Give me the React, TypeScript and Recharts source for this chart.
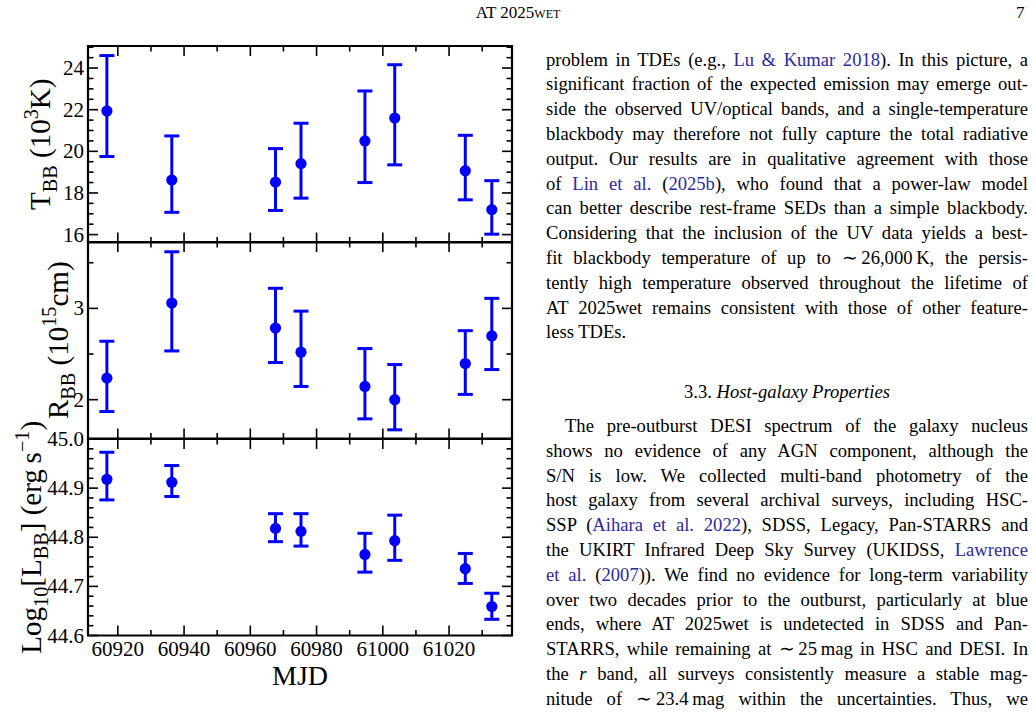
import React from 'react';
import { ScatterChart, Scatter, XAxis, YAxis, ErrorBar, ReferenceArea } from 'recharts';

// epochs of the blackbody fits
const mjd = [60916.7, 60936.3, 60967.6, 60975.3, 60994.6, 61003.6, 61024.9, 61032.9];

// T_BB in 10^3 K
const temp = [21.94, 18.62, 18.52, 19.41, 20.5, 21.6, 19.07, 17.2];
const tempErrLo = [2.19, 1.55, 1.36, 1.66, 2.0, 2.25, 1.4, 1.18];
const tempErrHi = [2.66, 2.12, 1.61, 1.94, 2.4, 2.56, 1.7, 1.39];

// R_BB in 10^15 cm
const radius = [2.236, 3.059, 2.785, 2.52, 2.145, 2.0, 2.396, 2.698];
const radiusErrLo = [0.366, 0.525, 0.378, 0.375, 0.355, 0.33, 0.338, 0.368];
const radiusErrHi = [0.404, 0.561, 0.435, 0.45, 0.415, 0.385, 0.36, 0.412];

// log10 L_BB in erg/s
const lum = [44.918, 44.912, 44.818, 44.812, 44.765, 44.793, 44.736, 44.659];
const lumErrLo = [0.042, 0.029, 0.027, 0.03, 0.036, 0.04, 0.03, 0.026];
const lumErrHi = [0.055, 0.034, 0.03, 0.036, 0.043, 0.052, 0.031, 0.027];

const mjdMajor = [60920, 60940, 60960, 60980, 61000, 61020];
const tempMajor = [16, 18, 20, 22, 24];
const radiusMajor = [2, 3];
const lumMajor = [44.6, 44.7, 44.8, 44.9, 45.0];

const MJD_DOMAIN: [number, number] = [60911, 61039];
const TEMP_DOMAIN: [number, number] = [15.62, 25.06];
const RADIUS_DOMAIN: [number, number] = [1.575, 3.727];
const LUM_DOMAIN: [number, number] = [44.6, 45.0];

const steps = (a: number, b: number, d: number) => {
  const out: number[] = [];
  for (let v = a; v <= b + 1e-9; v += d) out.push(Math.round(v * 1e4) / 1e4);
  return out;
};

const SERIF = '"Liberation Serif", "Times New Roman", serif';
const BLUE = '#0000ff';
const LINK = '#2b2ba0';

const CHART_W = 530;
const M_TOP = 6;
const M_LEFT = 28;
const M_RIGHT = 18;
const Y_W = 60;
const PLOT_W = CHART_W - M_LEFT - M_RIGHT - Y_W;
const PLOT_H = 196.5;
const Y_MARGIN = 4;
const X_MARGIN = 13;

const near = (list: number[], v: number) => list.some((m) => Math.abs(m - v) < 1e-6);

const YTick = (props: any) => {
  const { x, y, payload, majors, fmt } = props;
  const major = near(majors, payload.value);
  const x0 = x + Y_MARGIN;
  const len = major ? 10 : 5.5;
  return (
    <g>
      <line x1={x0} x2={x0 + len} y1={y} y2={y} stroke="#000" strokeWidth={1.6} />
      <line x1={x0 + PLOT_W - len} x2={x0 + PLOT_W} y1={y} y2={y} stroke="#000" strokeWidth={1.6} />
      {major && (
        <text x={x} y={y} textAnchor="end" dominantBaseline="central" fontFamily={SERIF} fontSize={21} fill="#000">
          {fmt(payload.value)}
        </text>
      )}
    </g>
  );
};

const XTick = (props: any) => {
  const { x, y, payload, showLabels } = props;
  const major = near(mjdMajor, payload.value);
  const yb = y - X_MARGIN;
  const yt = yb - PLOT_H;
  const len = major ? 10 : 5.5;
  return (
    <g>
      <line x1={x} x2={x} y1={yb} y2={yb - len} stroke="#000" strokeWidth={1.6} />
      <line x1={x} x2={x} y1={yt} y2={yt + len} stroke="#000" strokeWidth={1.6} />
      {major && showLabels && (
        <text x={x} y={y} textAnchor="middle" dominantBaseline="central" fontFamily={SERIF} fontSize={21} fill="#000">
          {payload.value}
        </text>
      )}
    </g>
  );
};

type Part = { t: string; sub?: boolean; sup?: boolean };

// rotated axis title; baseX is the text baseline in chart coordinates
const YTitle = ({ viewBox, parts, baseX }: any) => {
  const cy = viewBox.y + viewBox.height / 2;
  const fs = 29;
  let shift = 0;
  return (
    <text
      x={baseX}
      y={cy}
      transform={`rotate(-90, ${baseX}, ${cy})`}
      textAnchor="middle"
      fontFamily={SERIF}
      fontSize={fs}
      fill="#000"
    >
      {parts.map((p: Part, i: number) => {
        const target = p.sub ? 7 : p.sup ? -12 : 0;
        const dy = target - shift;
        shift = target;
        return (
          <tspan key={i} dy={dy} fontSize={p.sub || p.sup ? fs * 0.7 : fs}>
            {p.t}
          </tspan>
        );
      })}
    </text>
  );
};

const Panel = (props: any) => {
  const { rows, domain, ticks, majors, fmt, title, baseX, bottom, top } = props;
  const xH = bottom ? 60 : 2;
  const height = M_TOP + PLOT_H + xH + 4;
  return (
    <div style={{ position: 'absolute', left: 0, top: top - M_TOP }}>
      <ScatterChart
        width={CHART_W}
        height={height}
        margin={{ top: M_TOP, right: M_RIGHT, left: M_LEFT, bottom: 4 }}
      >
        <XAxis
          type="number"
          dataKey="mjd"
          domain={MJD_DOMAIN}
          allowDataOverflow
          ticks={steps(60920, 61030, 10)}
          interval={0}
          height={xH}
          axisLine={false}
          tickLine={false}
          tickSize={0}
          tickMargin={X_MARGIN}
          tick={(p: any) => <XTick {...p} showLabels={bottom} />}
          label={
            bottom
              ? {
                  content: ({ viewBox }: any) => (
                    <text
                      x={viewBox.x + viewBox.width / 2}
                      y={viewBox.y + 40}
                      textAnchor="middle"
                      dominantBaseline="central"
                      fontFamily={SERIF}
                      fontSize={28}
                      fill="#000"
                    >
                      MJD
                    </text>
                  ),
                }
              : undefined
          }
        />
        <YAxis
          type="number"
          dataKey="v"
          domain={domain}
          allowDataOverflow
          ticks={ticks}
          interval={0}
          width={Y_W}
          axisLine={false}
          tickLine={false}
          tickSize={0}
          tickMargin={Y_MARGIN}
          tick={(p: any) => <YTick {...p} majors={majors} fmt={fmt} />}
          label={{ content: ({ viewBox }: any) => <YTitle viewBox={viewBox} parts={title} baseX={baseX} /> }}
        />
        <Scatter
          data={rows}
          isAnimationActive={false}
          shape={(p: any) => <circle cx={p.cx} cy={p.cy} r={5.6} fill={BLUE} />}
        >
          <ErrorBar dataKey="err" direction="y" width={7.5} stroke={BLUE} strokeWidth={3} />
        </Scatter>
        <ReferenceArea
          x1={MJD_DOMAIN[0]}
          x2={MJD_DOMAIN[1]}
          y1={domain[0]}
          y2={domain[1]}
          fill="none"
          fillOpacity={0}
          stroke="#000"
          strokeWidth={2.2}
          ifOverflow="visible"
        />
      </ScatterChart>
    </div>
  );
};

const rowsOf = (v: number[], lo: number[], hi: number[]) =>
  mjd.map((m, i) => ({ mjd: m, v: v[i], err: [lo[i], hi[i]] }));

type Seg = string | { link: string } | { it: string };

const para1: Seg[][] = [
  ['problem in TDEs (e.g., ', { link: 'Lu & Kumar 2018' }, '). In this picture, a'],
  ['significant fraction of the expected emission may emerge out-'],
  ['side the observed UV/optical bands, and a single-temperature'],
  ['blackbody may therefore not fully capture the total radiative'],
  ['output.  Our results are in qualitative agreement with those'],
  ['of ', { link: 'Lin et al.' }, ' (', { link: '2025b' }, '), who found that a power-law model'],
  ['can better describe rest-frame SEDs than a simple blackbody.'],
  ['Considering that the inclusion of the UV data yields a best-'],
  ['fit blackbody temperature of up to \u223C\u200926,000\u2009K, the persis-'],
  ['tently high temperature observed throughout the lifetime of'],
  ['AT 2025wet remains consistent with those of other feature-'],
  ['less TDEs.'],
];

const para2: Seg[][] = [
  ['The pre-outburst DESI spectrum of the galaxy nucleus'],
  ['shows no evidence of any AGN component, although the'],
  ['S/N is low.  We collected multi-band photometry of the'],
  ['host galaxy from several archival surveys, including HSC-'],
  ['SSP (', { link: 'Aihara et al. 2022' }, '), SDSS, Legacy, Pan-STARRS and'],
  ['the UKIRT Infrared Deep Sky Survey (UKIDSS, ', { link: 'Lawrence' }],
  [{ link: 'et al.' }, ' (', { link: '2007' }, ')). We find no evidence for long-term variability'],
  ['over two decades prior to the outburst, particularly at blue'],
  ['ends, where AT 2025wet is undetected in SDSS and Pan-'],
  ['STARRS, while remaining at \u223C\u200925\u2009mag in HSC and DESI. In'],
  ['the ', { it: 'r' }, ' band, all surveys consistently measure a stable mag-'],
  ['nitude of \u223C\u200923.4\u2009mag within the uncertainties.  Thus, we'],
];

const LINE_H = 24.8;
const COL_X = 546;
const COL_W = 482;
const TEXT_FS = 18.6;

const TextBlock = ({ lines, top, indentFirst, lastLoose }: any) => (
  <div style={{ position: 'absolute', left: COL_X, top, width: COL_W, fontFamily: SERIF, fontSize: TEXT_FS, lineHeight: `${LINE_H}px`, color: '#000' }}>
    {lines.map((segs: Seg[], i: number) => {
      const last = lastLoose && i === lines.length - 1;
      return (
        <div
          key={i}
          style={{
            whiteSpace: 'nowrap',
            textAlign: last ? 'left' : 'justify',
            textAlignLast: last ? 'left' : 'justify',
            paddingLeft: indentFirst && i === 0 ? 19 : 0,
            height: LINE_H,
          }}
        >
          {segs.map((s, j) =>
            typeof s === 'string' ? (
              <span key={j}>{s}</span>
            ) : 'link' in s ? (
              <span key={j} style={{ color: LINK }}>{s.link}</span>
            ) : (
              <i key={j}>{s.it}</i>
            ),
          )}
        </div>
      );
    })}
  </div>
);

export default function App() {
  return (
    <div style={{ position: 'absolute', left: 0, top: 0, width: 1036, height: 716, background: '#fff', overflow: 'hidden' }}>
      <style>{'.recharts-surface { overflow: visible; }'}</style>
      <div style={{ position: 'absolute', left: 0, top: 3, width: 1036, textAlign: 'center', fontFamily: SERIF, fontSize: 17 }}>
        AT 2025<span style={{ fontVariant: 'small-caps' }}>wet</span>
      </div>
      <div style={{ position: 'absolute', left: 1016, top: 3, fontFamily: SERIF, fontSize: 17 }}>7</div>

      <Panel
        top={45.7}
        rows={rowsOf(temp, tempErrLo, tempErrHi)}
        domain={TEMP_DOMAIN}
        ticks={steps(16, 25, 0.5)}
        majors={tempMajor}
        fmt={(v: number) => String(v)}
        title={[{ t: 'T' }, { t: 'BB', sub: true }, { t: ' (10' }, { t: '3', sup: true }, { t: 'K)' }]}
        baseX={50}
      />
      <Panel
        top={242.2}
        rows={rowsOf(radius, radiusErrLo, radiusErrHi)}
        domain={RADIUS_DOMAIN}
        ticks={steps(2, 3.5, 0.5)}
        majors={radiusMajor}
        fmt={(v: number) => String(v)}
        title={[{ t: 'R' }, { t: 'BB', sub: true }, { t: ' (10' }, { t: '15', sup: true }, { t: 'cm)' }]}
        baseX={68}
      />
      <Panel
        top={438.7}
        bottom
        rows={rowsOf(lum, lumErrLo, lumErrHi)}
        domain={LUM_DOMAIN}
        ticks={steps(44.6, 45.0, 0.02)}
        majors={lumMajor}
        fmt={(v: number) => v.toFixed(1)}
        title={[
          { t: 'Log' },
          { t: '10', sub: true },
          { t: '[L' },
          { t: 'BB', sub: true },
          { t: '] (erg\u2009s' },
          { t: '\u22121', sup: true },
          { t: ')' },
        ]}
        baseX={41}
      />

      <TextBlock lines={para1} top={60 - LINE_H / 2} lastLoose />
      <div style={{ position: 'absolute', left: COL_X, top: 392 - LINE_H / 2, width: COL_W, textAlign: 'center', fontFamily: SERIF, fontSize: TEXT_FS, lineHeight: `${LINE_H}px` }}>
        3.3. <i>Host-galaxy Properties</i>
      </div>
      <TextBlock lines={para2} top={426.5 - LINE_H / 2} indentFirst />
    </div>
  );
}
